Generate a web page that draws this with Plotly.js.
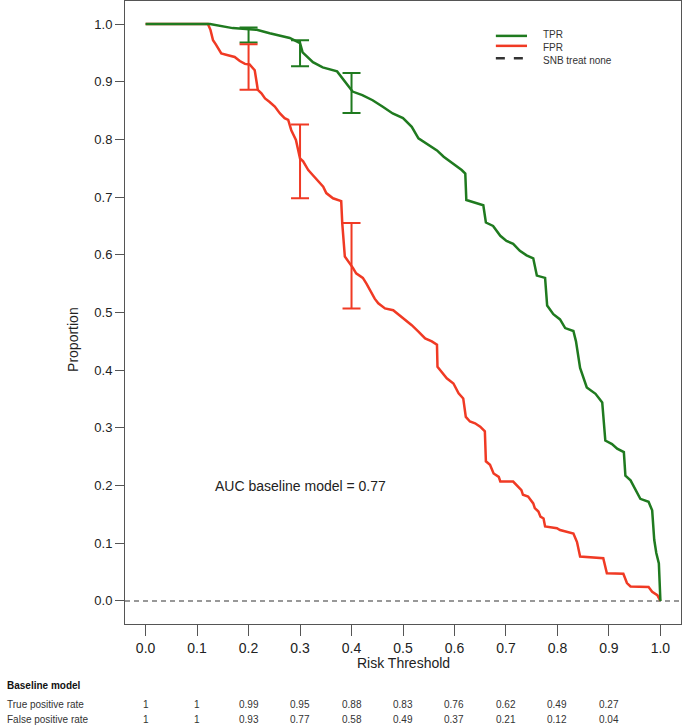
<!DOCTYPE html>
<html>
<head>
<meta charset="utf-8">
<script src="https://cdn.plot.ly/plotly-3.0.1.min.js"></script>
<style>html,body{margin:0;padding:0;background:#fff;}#chart{width:685px;height:728px;}</style>
</head>
<body>
<div id="chart"></div>
<script>
// ---- data ----
const tprX = [0,0.125,0.169,0.216,0.241,0.280,0.300,0.305,0.325,0.344,0.372,0.387,0.402,0.421,0.441,0.460,0.480,0.500,0.517,0.530,0.546,0.566,0.579,0.598,0.614,0.621,0.623,0.656,0.661,0.675,0.689,0.701,0.714,0.727,0.740,0.753,0.760,0.776,0.780,0.792,0.805,0.815,0.831,0.836,0.844,0.857,0.874,0.887,0.893,0.906,0.916,0.929,0.932,0.942,0.949,0.961,0.977,0.984,0.988,0.992,0.997,1.0];
const tprY = [1,1,0.993,0.990,0.984,0.976,0.967,0.951,0.934,0.925,0.918,0.900,0.883,0.877,0.868,0.857,0.845,0.837,0.822,0.802,0.793,0.781,0.770,0.758,0.747,0.741,0.695,0.686,0.656,0.650,0.633,0.624,0.619,0.607,0.599,0.594,0.564,0.560,0.512,0.497,0.488,0.473,0.468,0.450,0.404,0.370,0.359,0.344,0.278,0.272,0.264,0.258,0.217,0.209,0.197,0.177,0.172,0.157,0.106,0.083,0.065,0];

const fprX = [0,0.121,0.126,0.131,0.137,0.147,0.160,0.173,0.183,0.193,0.202,0.212,0.215,0.218,0.225,0.232,0.241,0.251,0.261,0.270,0.277,0.283,0.292,0.296,0.300,0.306,0.316,0.325,0.335,0.345,0.351,0.364,0.380,0.382,0.387,0.397,0.403,0.409,0.422,0.429,0.436,0.445,0.452,0.465,0.481,0.501,0.517,0.530,0.543,0.556,0.566,0.567,0.575,0.585,0.598,0.608,0.617,0.622,0.630,0.640,0.650,0.659,0.661,0.669,0.676,0.686,0.689,0.714,0.730,0.733,0.743,0.753,0.756,0.763,0.767,0.773,0.776,0.799,0.805,0.818,0.831,0.838,0.844,0.889,0.896,0.928,0.935,0.942,0.977,0.984,0.994,1.0];
const fprY = [1,1,0.990,0.972,0.964,0.949,0.946,0.943,0.936,0.931,0.930,0.920,0.903,0.886,0.880,0.871,0.865,0.857,0.845,0.837,0.834,0.816,0.799,0.782,0.767,0.762,0.747,0.738,0.727,0.718,0.707,0.698,0.693,0.655,0.597,0.585,0.577,0.568,0.560,0.550,0.539,0.524,0.516,0.507,0.504,0.490,0.478,0.467,0.455,0.450,0.444,0.406,0.397,0.386,0.377,0.360,0.351,0.319,0.311,0.308,0.302,0.294,0.242,0.236,0.221,0.215,0.207,0.207,0.192,0.184,0.181,0.169,0.161,0.155,0.146,0.143,0.129,0.126,0.123,0.120,0.117,0.102,0.077,0.074,0.048,0.047,0.031,0.025,0.024,0.016,0.010,0];

// confidence intervals at selected thresholds
const ciX = [0.2, 0.3, 0.4];
const tprCenter = [0.99, 0.95, 0.88];
const tprUpper = [0.994, 0.972, 0.915];
const tprLower = [0.968, 0.927, 0.846];
const fprCenter = [0.93, 0.77, 0.58];
const fprUpper = [0.965, 0.826, 0.655];
const fprLower = [0.886, 0.698, 0.507];

// table below the chart
const tableThresholds = [0, 0.1, 0.2, 0.3, 0.4, 0.5, 0.6, 0.7, 0.8, 0.9];
const tableTPR = ['1','1','0.99','0.95','0.88','0.83','0.76','0.62','0.49','0.27'];
const tableFPR = ['1','1','0.93','0.77','0.58','0.49','0.37','0.21','0.12','0.04'];
const seriesNames = ['TPR', 'FPR', 'SNB treat none'];
const aucText = 'AUC baseline model = 0.77';

// ---- styles ----
const GREEN = '#1f7a1f';
const RED = '#f03a24';
const FONT = 'Liberation Sans, Arial, Helvetica, sans-serif';
const TXT = '#333';

const traces = [
  {x: fprX, y: fprY, mode: 'lines', line: {color: RED, width: 2.5}, hoverinfo: 'skip', showlegend: false},
  {x: tprX, y: tprY, mode: 'lines', line: {color: GREEN, width: 2.5}, hoverinfo: 'skip', showlegend: false},
  {x: ciX, y: tprCenter, mode: 'markers', marker: {size: 1, color: 'rgba(0,0,0,0)'}, showlegend: false,
   error_y: {type: 'data', symmetric: false,
     array: tprUpper.map((u, i) => u - tprCenter[i]),
     arrayminus: tprLower.map((l, i) => tprCenter[i] - l),
     color: GREEN, thickness: 2, width: 9}},
  {x: ciX, y: fprCenter, mode: 'markers', marker: {size: 1, color: 'rgba(0,0,0,0)'}, showlegend: false,
   error_y: {type: 'data', symmetric: false,
     array: fprUpper.map((u, i) => u - fprCenter[i]),
     arrayminus: fprLower.map((l, i) => fprCenter[i] - l),
     color: RED, thickness: 2, width: 9}}
];

const annotations = [];
const shapes = [
  {type: 'line', xref: 'paper', x0: 0, x1: 1, yref: 'y', y0: 0, y1: 0,
   line: {color: '#777', width: 1.5, dash: '5px,4px'}, layer: 'below'}
];

// custom legend: line samples + one multi-line text block
const legColors = [GREEN, RED, '#333'];
const legDash = ['solid', 'solid', 'dash'];
const legY = [0.944, 0.928, 0.908];
seriesNames.forEach((n, i) => {
  shapes.push({type: 'line', xref: 'paper', yref: 'paper', x0: 0.667, x1: 0.723, y0: legY[i], y1: legY[i],
    line: {color: legColors[i], width: 2.5, dash: legDash[i]}});
});
annotations.push({xref: 'paper', yref: 'paper', x: 0.748, y: 0.926, text: seriesNames.join('<br>'),
  showarrow: false, align: 'left', xanchor: 'left', yanchor: 'middle',
  font: {family: FONT, size: 10, color: TXT}});

// AUC text
annotations.push({xref: 'x', yref: 'y', x: 0.3, y: 0.2, text: aucText, showarrow: false,
  xanchor: 'center', yanchor: 'middle', font: {family: FONT, size: 14, color: '#222'}});

// axis titles
annotations.push({xref: 'paper', yref: 'paper', x: 0.5, y: -0.0626, text: 'Risk Threshold', showarrow: false,
  xanchor: 'center', yanchor: 'middle', font: {family: FONT, size: 14, color: '#222'}});
annotations.push({xref: 'paper', yref: 'paper', x: -0.0935, y: 0.456, text: 'Proportion', showarrow: false,
  textangle: -90, xanchor: 'center', yanchor: 'middle', font: {family: FONT, size: 14, color: '#222'}});

// table
annotations.push({xref: 'paper', yref: 'paper', x: -0.216, y: -0.0995, text: '<b>Baseline model</b>', showarrow: false,
  xanchor: 'left', yanchor: 'middle', font: {family: FONT, size: 10, color: '#111'}});
annotations.push({xref: 'paper', yref: 'paper', x: -0.216, y: -0.130, text: 'True positive rate', showarrow: false,
  xanchor: 'left', yanchor: 'middle', font: {family: FONT, size: 10, color: TXT}});
annotations.push({xref: 'paper', yref: 'paper', x: -0.216, y: -0.1525, text: 'False positive rate', showarrow: false,
  xanchor: 'left', yanchor: 'middle', font: {family: FONT, size: 10, color: TXT}});
tableThresholds.forEach((t, i) => {
  annotations.push({xref: 'x', yref: 'paper', x: t, y: -0.130, text: tableTPR[i], showarrow: false,
    xanchor: 'center', yanchor: 'middle', font: {family: FONT, size: 10, color: TXT}});
  annotations.push({xref: 'x', yref: 'paper', x: t, y: -0.1525, text: tableFPR[i], showarrow: false,
    xanchor: 'center', yanchor: 'middle', font: {family: FONT, size: 10, color: TXT}});
});

const layout = {
  width: 685, height: 728,
  margin: {l: 125, r: 4, t: 1, b: 104},
  paper_bgcolor: '#fff', plot_bgcolor: '#fff',
  showlegend: false,
  font: {family: FONT, color: TXT},
  xaxis: {range: [-0.04, 1.04], tick0: 0, dtick: 0.1, tickformat: '.1f',
    ticks: 'outside', ticklen: 11, tickcolor: '#555', tickwidth: 1,
    showline: true, mirror: true, linecolor: '#555', linewidth: 1,
    showgrid: false, zeroline: false, tickfont: {family: FONT, size: 14, color: '#222'}},
  yaxis: {range: [-0.04, 1.04], tick0: 0, dtick: 0.1, tickformat: '.1f',
    ticks: 'outside', ticklen: 9, tickcolor: '#555', tickwidth: 1,
    showline: true, mirror: true, linecolor: '#555', linewidth: 1,
    showgrid: false, zeroline: false, tickfont: {family: FONT, size: 13, color: '#222'}},
  shapes: shapes,
  annotations: annotations
};

Plotly.newPlot('chart', traces, layout, {displayModeBar: false, staticPlot: true});
</script>
</body>
</html>
